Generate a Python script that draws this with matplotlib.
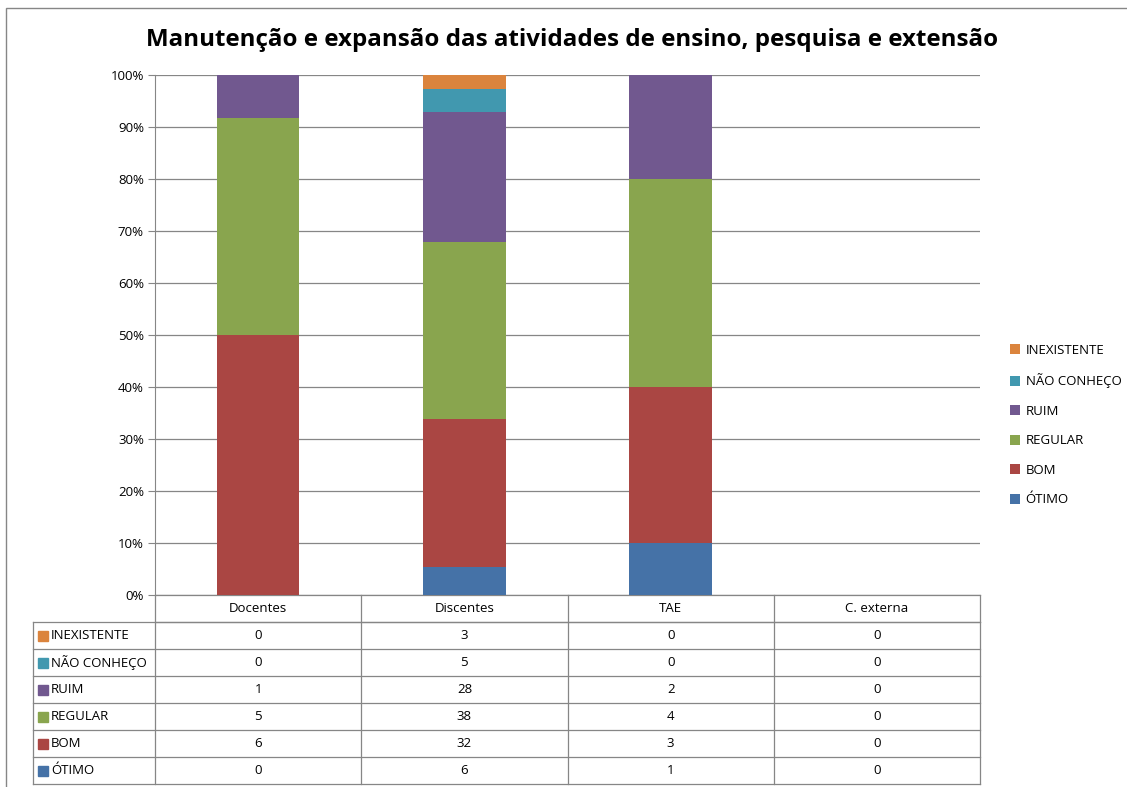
import numpy as np
import matplotlib
matplotlib.use("Agg")
import matplotlib.pyplot as plt
from matplotlib.patches import Rectangle

plt.rcParams["font.family"] = ["Open Sans", "DejaVu Sans"]

# data
groups = ["Docentes", "Discentes", "TAE", "C. externa"]
levels = ["ÓTIMO", "BOM", "REGULAR", "RUIM", "NÃO CONHEÇO", "INEXISTENTE"]
otimo = [0, 6, 1, 0]
bom = [6, 32, 3, 0]
regular = [5, 38, 4, 0]
ruim = [1, 28, 2, 0]
nao_conheco = [0, 5, 0, 0]
inexistente = [0, 3, 0, 0]
colors = ["#4572A7", "#AA4643", "#89A54E", "#71588F", "#4198AF", "#DB843D"]

counts = np.array([otimo, bom, regular, ruim, nao_conheco, inexistente], dtype=float)
totals = counts.sum(axis=0)
pct = np.divide(counts, totals, out=np.zeros_like(counts), where=totals > 0)

fig = plt.figure(figsize=(11.27, 7.87), dpi=100)
W, H = 1127, 787
ax = fig.add_axes([155 / W, 1 - 595 / H, 825 / W, 520 / H])

x = np.arange(len(groups))
bottom = np.zeros(len(groups))
for i, name in enumerate(levels):
    ax.bar(x, pct[i], 0.4, bottom=bottom, color=colors[i], label=name, zorder=3)
    bottom += pct[i]

ax.set_xlim(-0.5, len(groups) - 0.5)
ax.set_ylim(0, 1)
ax.set_yticks(np.arange(0, 1.01, 0.1))
ax.set_yticklabels([f"{int(round(v * 100))}%" for v in np.arange(0, 1.01, 0.1)], fontsize=9.5)
ax.yaxis.grid(True, color="#868686", linewidth=0.9, zorder=0)
ax.tick_params(axis="y", length=5, color="#868686", pad=3)
ax.set_xticks([])
for s in ["top", "right", "bottom"]:
    ax.spines[s].set_visible(False)
ax.spines["left"].set_color("#868686")

fig.text(572 / W, 1 - 40 / H, "Manutenção e expansão das atividades de ensino, pesquisa e extensão",
         fontsize=17.4, fontweight="bold", ha="center", va="center")

# data table under the chart
row_h = 27 / 520
lab_left = (33 - 155) / 825
lc = "#868686"
ax.plot([0, 1], [-row_h, -row_h], transform=ax.transAxes, color=lc, lw=0.9, clip_on=False)
ax.plot([0, 1], [0, 0], transform=ax.transAxes, color=lc, lw=0.9, clip_on=False)
for j in range(len(groups) + 1):
    xx = j / len(groups)
    ax.plot([xx, xx], [0, -7 * row_h], transform=ax.transAxes, color=lc, lw=0.9, clip_on=False)
    if j < len(groups):
        ax.text((j + 0.5) / len(groups), -0.5 * row_h, groups[j], transform=ax.transAxes,
                ha="center", va="center", fontsize=9.5)
ax.plot([lab_left, lab_left], [-row_h, -7 * row_h], transform=ax.transAxes, color=lc, lw=0.9, clip_on=False)
for r in range(7):
    yy = -(r + 1) * row_h
    ax.plot([lab_left, 1], [yy, yy], transform=ax.transAxes, color=lc, lw=0.9, clip_on=False)

sq_w = 10 / 825
sq_h = 10 / 520
for r, i in enumerate(range(len(levels) - 1, -1, -1)):
    yc = -(r + 1.5) * row_h
    ax.add_patch(Rectangle((lab_left + 5 / 825, yc - sq_h / 2), sq_w, sq_h, color=colors[i],
                           transform=ax.transAxes, clip_on=False))
    ax.text(lab_left + 18 / 825, yc, levels[i], transform=ax.transAxes, ha="left", va="center", fontsize=9.5)
    for j in range(len(groups)):
        ax.text((j + 0.5) / len(groups), yc, f"{int(counts[i, j])}", transform=ax.transAxes,
                ha="center", va="center", fontsize=9.5)

handles, labels = ax.get_legend_handles_labels()
fig.legend(handles[::-1], labels[::-1], loc="center left", bbox_to_anchor=(998 / W, 1 - 425 / H),
           frameon=False, fontsize=9.5, handlelength=0.8, handleheight=0.8, labelspacing=1.25,
           handletextpad=0.4)

fig.add_artist(Rectangle((6 / W, -0.1), 1.2, 1 - 8 / H + 0.1, transform=fig.transFigure,
                         fill=False, edgecolor="#868686", lw=1.0))

fig.savefig("out.png", dpi=100, facecolor="white")
